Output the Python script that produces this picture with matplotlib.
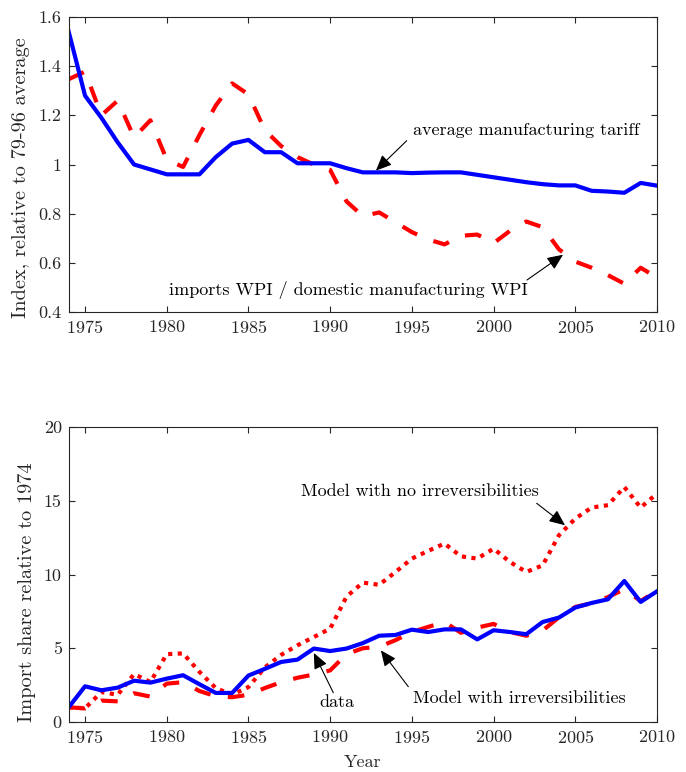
import matplotlib
matplotlib.use("Agg")
import matplotlib.pyplot as plt
from matplotlib.ticker import FuncFormatter, MultipleLocator

plt.rcParams['font.family'] = ['cmr10', 'DejaVu Serif']
plt.rcParams['axes.formatter.use_mathtext'] = True
plt.rcParams['mathtext.fontset'] = 'cm'

years = list(range(1974, 2011))

tariff = [1.54, 1.28, 1.19, 1.09, 1.00, 0.98, 0.96, 0.96, 0.96, 1.03,
          1.085, 1.10, 1.05, 1.05, 1.005, 1.005, 1.005, 0.985, 0.968, 0.968,
          0.968, 0.965, 0.967, 0.968, 0.968, 0.958, 0.948, 0.938, 0.928, 0.92,
          0.915, 0.915, 0.893, 0.890, 0.885, 0.925, 0.914]

wpi_ratio = [1.347, 1.378, 1.20, 1.26, 1.11, 1.18, 1.02, 0.99, 1.12, 1.24,
             1.33, 1.285, 1.14, 1.075, 1.03, 1.00, 0.978, 0.85, 0.79, 0.805,
             0.765, 0.725, 0.695, 0.675, 0.71, 0.715, 0.68, 0.73, 0.768, 0.745,
             0.655, 0.605, 0.58, 0.55, 0.515, 0.58, 0.54]

data_share = [1.0, 2.42, 2.15, 2.33, 2.8, 2.67, 2.94, 3.17, 2.56, 1.97,
              1.97, 3.15, 3.6, 4.07, 4.23, 4.98, 4.81, 4.98, 5.35, 5.85,
              5.9, 6.26, 6.1, 6.28, 6.28, 5.6, 6.22, 6.1, 5.95, 6.78,
              7.08, 7.76, 8.07, 8.32, 9.56, 8.14, 8.86]

model_irr = [1.0, 0.92, 1.45, 1.4, 1.95, 1.72, 2.6, 2.7, 2.1, 1.75,
             1.68, 1.85, 2.3, 2.7, 3.0, 3.22, 3.5, 4.6, 5.0, 5.1,
             5.55, 6.1, 6.45, 6.78, 6.05, 6.4, 6.65, 6.1, 5.85, 6.2,
             7.1, 7.8, 8.05, 8.47, 9.0, 8.2, 8.9]

model_noirr = [1.0, 0.93, 2.03, 1.85, 3.25, 2.71, 4.6, 4.65, 3.4, 2.3,
               1.85, 2.37, 3.7, 4.55, 5.2, 5.76, 6.33, 8.5, 9.45, 9.3,
               10.17, 11.08, 11.6, 12.1, 11.23, 11.08, 11.75, 10.85, 10.17, 10.62,
               12.66, 13.79, 14.54, 14.7, 15.93, 14.54, 15.49]

x_ticks = [1975, 1980, 1985, 1990, 1995, 2000, 2005, 2010]

W, H = 686, 772
fig = plt.figure(figsize=(W / 100, H / 100), dpi=100)

axc = '#262626'
fs = 13
fs_lab = 14.6

def px(x, y):
    return (x / W, 1 - y / H)

def style(ax):
    for s in ax.spines.values():
        s.set_color(axc)
        s.set_linewidth(0.8)
    ax.tick_params(direction='in', top=True, right=True, length=4.5,
                   width=0.8, color=axc, labelcolor=axc, labelsize=fs, pad=5)
    ax.set_xlim(1974, 2010)
    ax.set_xticks(x_ticks)
    ax.yaxis.set_major_formatter(FuncFormatter(lambda v, p: '%g' % round(v, 6)))

ax1 = fig.add_axes([68.7 / W, 1 - 312 / H, (657 - 68.7) / W, (312 - 17) / H])
ax1.plot(years, wpi_ratio, color='#ff0000', lw=3, dashes=(4, 4.2), dash_capstyle='butt')
ax1.plot(years, tariff, color='#0000ff', lw=3)
ax1.set_ylim(0.4, 1.6)
ax1.yaxis.set_major_locator(MultipleLocator(0.2))
style(ax1)

ax2 = fig.add_axes([68.7 / W, 1 - 722 / H, (657 - 68.7) / W, (722 - 427) / H])
ax2.plot(years, model_noirr, color='#ff0000', lw=3, dashes=(1, 1.3), dash_capstyle='butt')
ax2.plot(years, model_irr, color='#ff0000', lw=3, dashes=(4, 4.2), dash_capstyle='butt')
ax2.plot(years, data_share, color='#0000ff', lw=3)
ax2.set_ylim(0, 20)
ax2.yaxis.set_major_locator(MultipleLocator(5))
style(ax2)

# labels
fig.text(*px(21.5, 178), 'Index, relative to 79-96 average', rotation=90,
         ha='center', va='center', fontsize=fs_lab, color=axc)
fig.text(*px(27.5, 592), 'Import share relative to 1974', rotation=90,
         ha='center', va='center', fontsize=fs_lab, color=axc)
fig.text(*px(363, 762), 'Year', ha='center', va='center', fontsize=fs, color=axc)

arrow = dict(arrowstyle='-|>,head_length=0.8,head_width=0.35', mutation_scale=12,
             color='k', lw=0.8, shrinkA=0, shrinkB=0)

def note(ax, text, tx, ty, tail, tip):
    fig.text(*px(tx, ty), text, ha='left', va='baseline', fontsize=fs, color='k')
    ax.annotate('', xy=tip, xycoords='data', xytext=px(*tail),
                textcoords='figure fraction', arrowprops=arrow)

note(ax1, 'average manufacturing tariff', 413, 135, (406.7, 140.7), (1992.8, 0.975))
note(ax1, 'imports WPI / domestic manufacturing WPI', 169.3, 295, (527, 280), (2004.25, 0.633))
note(ax2, 'Model with no irreversibilities', 300.7, 496, (536.7, 503.3), (2004.37, 13.34))
note(ax2, 'Model with irreversibilities', 413.3, 702.7, (408.3, 686.7), (1993.1, 4.86))
note(ax2, 'data', 319.3, 706.7, (333.3, 692.7), (1989.0, 4.68))

fig.savefig('out.png', dpi=100)
